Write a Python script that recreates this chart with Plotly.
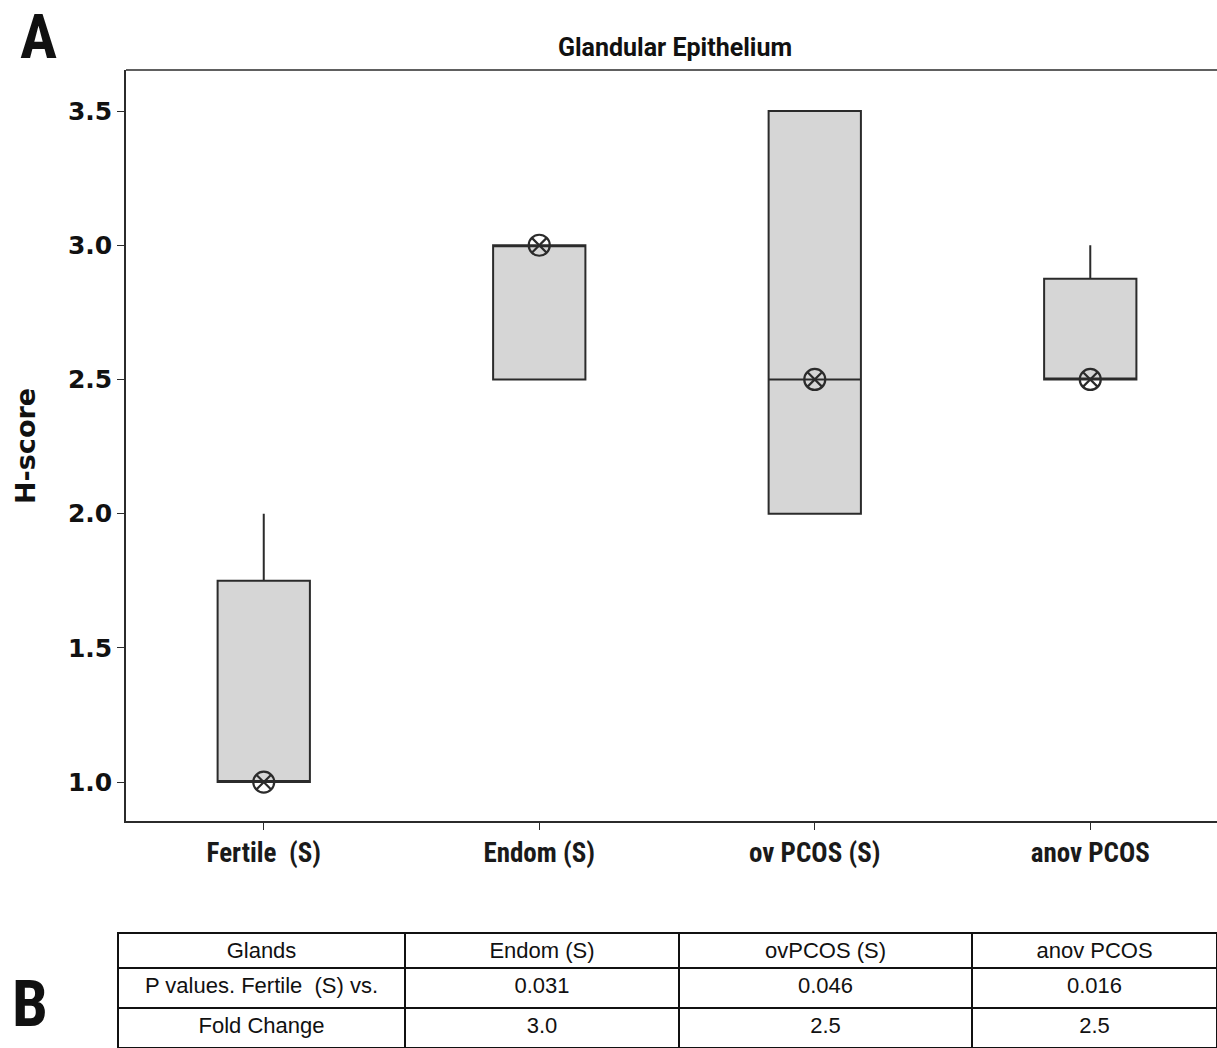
import plotly.graph_objects as go

# Group labels and box statistics (H-score)
groups = ["Fertile  (S)", "Endom (S)", "ov PCOS (S)", "anov PCOS"]
q1 = [1.0, 2.5, 2.0, 2.5]
median = [1.0, 3.0, 2.5, 2.5]
q3 = [1.75, 3.0, 3.5, 2.875]
lower_whisker = [1.0, 2.5, 2.0, 2.5]
upper_whisker = [2.0, 3.0, 3.5, 3.0]
mean_marker = [1.0, 3.0, 2.5, 2.5]

y_ticks = [1.0, 1.5, 2.0, 2.5, 3.0, 3.5]

# Comparison table
table_header = ["Glands", "Endom (S)", "ovPCOS (S)", "anov PCOS"]
row_labels = ["P values. Fertile  (S) vs.", "Fold Change"]
p_values = ["0.031", "0.046", "0.016"]
fold_change = ["3.0", "2.5", "2.5"]

W, H = 1217, 1048
ML, MT = 118, 70
paper_w = W - ML
paper_h = H - MT

narrow = "Roboto Condensed, Liberation Sans Narrow, Arial Narrow, sans-serif"
plain = "Liberation Sans, Arial, Helvetica, sans-serif"
title_font = "Roboto, Liberation Sans, Arial, sans-serif"
verdana = "DejaVu Sans, Verdana, sans-serif"
ink = "#2b2b2b"

fig = go.Figure()

fig.add_trace(go.Box(
    x=groups,
    q1=q1, median=median, q3=q3,
    lowerfence=lower_whisker, upperfence=upper_whisker,
    width=0.335,
    whiskerwidth=0,
    fillcolor="#d6d6d6",
    line=dict(color=ink, width=2),
    boxpoints=False,
    hoverinfo="skip",
    showlegend=False,
))

fig.add_trace(go.Scatter(
    x=groups, y=mean_marker,
    mode="markers",
    marker=dict(symbol="circle-x-open", size=21, color=ink,
                line=dict(width=2.2, color=ink)),
    showlegend=False,
    hoverinfo="skip",
))

cols = [[row_labels[0], row_labels[1]]] + [[p_values[i], fold_change[i]] for i in range(3)]

fig.add_trace(go.Table(
    domain=dict(x=[0, 1], y=[0, 115 / paper_h]),
    columnwidth=[287, 274, 293, 245],
    header=dict(values=table_header, height=35, align="center",
                line=dict(color="#111", width=1.5), fill=dict(color="white"),
                font=dict(family=plain, size=22, color="#111")),
    cells=dict(values=cols, height=40, align="center",
               line=dict(color="#111", width=1.5), fill=dict(color="white"),
               font=dict(family=plain, size=22, color="#111")),
))

fig.update_layout(
    width=W, height=H,
    margin=dict(l=ML, r=0, t=MT, b=0),
    paper_bgcolor="white", plot_bgcolor="white",
    title=dict(text="Glandular Epithelium", x=(675 - ML) / paper_w, xref="paper",
               xanchor="center", y=1 - 47 / H, yref="container", yanchor="middle",
               font=dict(family=title_font, size=25, color="#111", weight="bold")),
    xaxis=dict(
        domain=[8 / paper_w, 1],
        range=[-0.5, 3.46],
        showline=True, linecolor=ink, linewidth=1.5,
        ticks="outside", ticklen=7, tickcolor=ink, tickwidth=1.2,
        showgrid=False, zeroline=False,
        tickfont=dict(family=narrow, size=27, color="#1a1a1a", weight="bold"),
    ),
    yaxis=dict(
        domain=[(H - 821) / paper_h, 1],
        range=[0.855, 3.653],
        tickvals=y_ticks, tickformat=".1f",
        showline=True, linecolor=ink, linewidth=1.5,
        ticks="outside", ticklen=7, tickcolor=ink, tickwidth=1.2,
        showgrid=False, zeroline=False,
        tickfont=dict(family=verdana, size=25, color="#111", weight="bold"),
    ),
    shapes=[dict(type="line", xref="x domain", yref="y domain",
                 x0=0, x1=1, y0=1, y1=1, line=dict(color=ink, width=1.5))],
    annotations=[
        dict(text="H-score", textangle=-90, xref="paper", yref="paper",
             x=(25 - ML) / paper_w, y=(H - 446) / paper_h,
             xanchor="center", yanchor="middle", showarrow=False,
             font=dict(family=verdana, size=27, color="#111", weight="bold")),
        dict(text="A", xref="paper", yref="paper",
             x=(18 - ML) / paper_w, y=(H - 37) / paper_h,
             xanchor="left", yanchor="middle", showarrow=False,
             font=dict(family=narrow, size=62, color="#111", weight="bold")),
        dict(text="B", xref="paper", yref="paper",
             x=(10 - ML) / paper_w, y=(H - 1004) / paper_h,
             xanchor="left", yanchor="middle", showarrow=False,
             font=dict(family=narrow, size=64, color="#111", weight="bold")),
    ],
)

fig.write_html("out.html")
